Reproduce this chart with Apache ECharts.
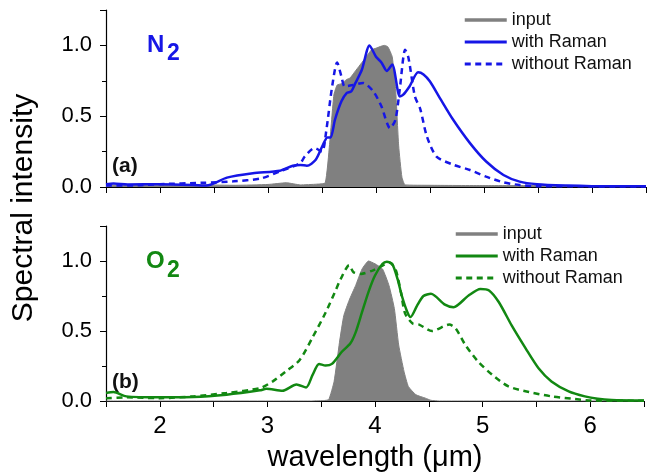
<!DOCTYPE html>
<html>
<head>
<meta charset="utf-8">
<script src="https://cdn.jsdelivr.net/npm/echarts@6/dist/echarts.min.js"></script>
<style>
  html, body { margin: 0; padding: 0; background: #fff; }
  #chart { width: 647px; height: 473px; }
</style>
</head>
<body>
<div id="chart"></div>
<script>
// x range and tick labels
var xMin = 1.5, xMax = 6.5;
var yTicks = [0, 0.5, 1.0];

// N2 panel, [wavelength um, intensity]
var n2Input = [[1.5,0.012],[1.8,0.015],[2.1,0.01],[2.4,0.015],[2.7,0.012],[3.0,0.018],[3.17,0.03],[3.3,0.015],[3.45,0.02],[3.53,0.03],
    [3.57,0.3],[3.61,0.65],[3.64,0.72],[3.68,0.73],[3.73,0.76],[3.76,0.77],[3.79,0.8],[3.84,0.85],[3.9,0.91],[3.96,0.97],[4.0,0.98],
    [4.05,0.995],[4.08,1.0],[4.11,0.99],[4.15,0.92],[4.18,0.71],[4.21,0.29],[4.24,0.07],[4.27,0.015],[4.5,0.012],[5.0,0.01],
    [5.5,0.01],[6.0,0.008],[6.5,0.008]];
var n2Raman = [[1.5,0.02],[1.57,0.025],[1.7,0.018],[2.0,0.02],[2.3,0.015],[2.43,0.01],[2.62,0.066],[2.86,0.097],[3.11,0.115],[3.23,0.15],
    [3.3,0.156],[3.36,0.15],[3.44,0.19],[3.51,0.3],[3.55,0.35],[3.58,0.35],[3.62,0.475],[3.68,0.605],[3.73,0.665],[3.77,0.675],
    [3.81,0.735],[3.87,0.83],[3.94,1.0],[4.0,0.92],[4.05,0.88],[4.1,0.82],[4.15,0.865],[4.22,0.64],[4.25,0.65],[4.31,0.71],
    [4.39,0.81],[4.44,0.795],[4.5,0.745],[4.59,0.63],[4.71,0.48],[4.87,0.31],[5.02,0.18],[5.18,0.085],[5.33,0.038],[5.49,0.02],
    [5.77,0.01],[6.0,0.006],[6.5,0.005]];
var n2NoRaman = [[1.5,0.01],[1.8,0.012],[2.0,0.02],[2.4,0.03],[2.68,0.04],[2.93,0.06],[3.11,0.11],[3.3,0.17],[3.34,0.215],[3.43,0.275],
    [3.5,0.25],[3.54,0.4],[3.59,0.69],[3.64,0.88],[3.68,0.78],[3.71,0.71],[3.79,0.72],[3.88,0.735],[3.975,0.675],[4.05,0.57],
    [4.13,0.415],[4.18,0.475],[4.22,0.69],[4.27,0.97],[4.3,0.915],[4.36,0.64],[4.41,0.55],[4.47,0.36],[4.56,0.215],[4.72,0.156],
    [4.87,0.12],[5.02,0.073],[5.18,0.033],[5.33,0.014],[5.5,0.006],[6.5,0.004]];

// O2 panel
var o2Input = [[1.5,0],[3.4,0],[3.52,0.003],[3.57,0.01],[3.62,0.14],[3.67,0.42],[3.71,0.61],[3.76,0.72],[3.82,0.825],[3.88,0.943],
    [3.94,1.0],[4.0,0.98],[4.07,0.943],[4.13,0.825],[4.18,0.66],[4.22,0.4],[4.27,0.21],[4.31,0.104],[4.38,0.045],[4.47,0.02],
    [4.52,0.005],[4.6,0],[6.5,0]];
var o2Raman = [[1.5,0.057],[1.57,0.064],[1.69,0.033],[2.0,0.026],[2.31,0.028],[2.62,0.045],[2.93,0.076],[2.99,0.087],[3.14,0.073],
    [3.27,0.118],[3.36,0.097],[3.42,0.187],[3.48,0.265],[3.54,0.253],[3.6,0.265],[3.69,0.35],[3.77,0.41],[3.82,0.49],[3.88,0.636],
    [3.94,0.78],[4.0,0.896],[4.07,0.98],[4.11,0.995],[4.16,0.98],[4.21,0.87],[4.25,0.75],[4.3,0.636],[4.33,0.6],[4.39,0.68],
    [4.45,0.75],[4.52,0.766],[4.65,0.688],[4.73,0.67],[4.87,0.754],[4.98,0.8],[5.06,0.79],[5.15,0.707],[5.27,0.54],[5.4,0.376],
    [5.52,0.234],[5.64,0.14],[5.8,0.069],[5.95,0.033],[6.07,0.016],[6.2,0.008],[6.5,0.004]];
var o2NoRaman = [[1.5,0.02],[1.69,0.026],[2.0,0.02],[2.31,0.033],[2.62,0.057],[2.93,0.092],[3.05,0.14],[3.17,0.21],[3.3,0.293],
    [3.42,0.455],[3.54,0.63],[3.64,0.8],[3.68,0.87],[3.76,0.97],[3.8,0.92],[3.87,0.908],[3.97,0.93],[4.07,0.967],[4.13,0.99],
    [4.19,0.943],[4.24,0.78],[4.28,0.624],[4.35,0.553],[4.41,0.546],[4.53,0.5],[4.69,0.546],[4.75,0.518],[4.84,0.4],[4.96,0.28],
    [5.09,0.187],[5.24,0.104],[5.43,0.064],[5.64,0.033],[5.86,0.014],[6.01,0.003],[6.5,0.002]];

var BLUE = '#1616e6', GREEN = '#128812', GRAY = '#808080';
var FONT = 'Liberation Sans, Arial, sans-serif';

function xAxisCfg(idx, showLabel) {
    return {
        type: 'value', gridIndex: idx, min: xMin, max: xMax, interval: 0.5,
        axisLine: { lineStyle: { color: '#000', width: 1.2 } },
        axisTick: { length: 6, lineStyle: { color: '#000' } },
        splitLine: { show: false },
        axisLabel: {
            show: showLabel, color: '#000', fontSize: 24, fontFamily: FONT, margin: 13,
            formatter: function(v) { return Math.abs(v - Math.round(v)) < 1e-6 ? String(Math.round(v)) : ''; }
        },
        name: showLabel ? 'wavelength (\u03bcm)' : '',
        nameLocation: 'middle', nameGap: 42,
        nameTextStyle: { color: '#000', fontSize: 29, fontFamily: FONT }
    };
}
function yAxisCfg(idx) {
    return {
        type: 'value', gridIndex: idx, min: 0, max: 1.25, interval: 0.5,
        axisLine: { show: true, lineStyle: { color: '#000', width: 1.2 } },
        axisTick: { show: true, length: 6, lineStyle: { color: '#000' } },
        minorTick: { show: true, splitNumber: 2, length: 4, lineStyle: { color: '#000' } },
        splitLine: { show: false },
        axisLabel: {
            color: '#000', fontSize: 22, fontFamily: FONT, margin: 14, showMaxLabel: false,
            formatter: function(v) { return yTicks.indexOf(v) >= 0 ? v.toFixed(1) : ''; }
        }
    };
}
function lineSeries(name, data, idx, color, dashed) {
    return {
        name: name, type: 'line', xAxisIndex: idx, yAxisIndex: idx, data: data,
        symbol: 'none', smooth: 0.25, z: 3,
        lineStyle: { color: color, width: 2.5, type: dashed ? [6, 4.5] : 'solid' },
        itemStyle: { color: color }
    };
}
function inputSeries(name, data, idx) {
    return {
        name: name, type: 'line', xAxisIndex: idx, yAxisIndex: idx, data: data,
        symbol: 'none', smooth: 0.15, z: 2,
        lineStyle: { color: GRAY, width: 1 },
        itemStyle: { color: GRAY },
        areaStyle: { color: GRAY, opacity: 1 }
    };
}
function legendCfg(top, left, names, color) {
    return {
        orient: 'vertical', top: top, left: left, itemWidth: 42, itemHeight: 14, itemGap: 4,
        textStyle: { fontSize: 18, color: '#111', fontFamily: FONT },
        itemStyle: { opacity: 0 },
        data: [
            { name: names[0], lineStyle: { color: GRAY, width: 3.5 } },
            { name: names[1], lineStyle: { color: color, width: 2.8, type: 'solid' } },
            { name: names[2], lineStyle: { color: color, width: 2.8, type: [6, 4.5] } }
        ]
    };
}

var chart = echarts.init(document.getElementById('chart'));
chart.setOption({
    animation: false,
    backgroundColor: '#fff',
    textStyle: { fontFamily: FONT },
    grid: [
        { left: 106, right: 1, top: 10, height: 177 },
        { left: 106, right: 1, top: 226, height: 177 }
    ],
    xAxis: [xAxisCfg(0, false), xAxisCfg(1, true)],
    yAxis: [yAxisCfg(0), yAxisCfg(1)],
    legend: [
        legendCfg(6, 458, ['input', 'with Raman', 'without Raman'], BLUE),
        legendCfg(220, 449, ['input ', 'with Raman ', 'without Raman '], GREEN)
    ],
    series: [
        inputSeries('input', n2Input, 0),
        lineSeries('with Raman', n2Raman, 0, BLUE, false),
        lineSeries('without Raman', n2NoRaman, 0, BLUE, true),
        inputSeries('input ', o2Input, 1),
        lineSeries('with Raman ', o2Raman, 1, GREEN, false),
        lineSeries('without Raman ', o2NoRaman, 1, GREEN, true)
    ],
    graphic: [
        { type: 'text', x: 24, y: 208, rotation: Math.PI / 2,
          style: { text: 'Spectral intensity', fill: '#000', font: '30px ' + FONT, textAlign: 'center', textVerticalAlign: 'middle' } },
        { type: 'text', x: 147, y: 45, style: { text: 'N', fill: BLUE, font: 'bold 24px ' + FONT, textVerticalAlign: 'middle' } },
        { type: 'text', x: 167, y: 54, style: { text: '2', fill: BLUE, font: 'bold 23px ' + FONT, textVerticalAlign: 'middle' } },
        { type: 'text', x: 146, y: 261, style: { text: 'O', fill: GREEN, font: 'bold 24px ' + FONT, textVerticalAlign: 'middle' } },
        { type: 'text', x: 167, y: 271, style: { text: '2', fill: GREEN, font: 'bold 23px ' + FONT, textVerticalAlign: 'middle' } },
        { type: 'text', x: 112, y: 166, style: { text: '(a)', fill: '#111', font: 'bold 21px ' + FONT, textVerticalAlign: 'middle' } },
        { type: 'text', x: 112, y: 382, style: { text: '(b)', fill: '#111', font: 'bold 21px ' + FONT, textVerticalAlign: 'middle' } }
    ]
});
</script>
</body>
</html>
